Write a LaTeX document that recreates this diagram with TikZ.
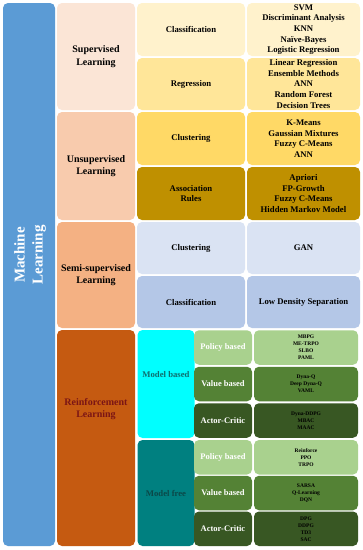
\documentclass[tikz,border=0pt]{standalone}
\usepackage{fontspec}
\setmainfont{Liberation Serif}
\definecolor{mlblue}{HTML}{5B9BD5}
\definecolor{supc}{HTML}{FBE5D6}
\definecolor{unsupc}{HTML}{F8CBAD}
\definecolor{semic}{HTML}{F4B183}
\definecolor{rlc}{HTML}{C55A11}
\definecolor{rltext}{HTML}{7B1515}
\definecolor{rowa}{HTML}{FFF2CC}
\definecolor{rowb}{HTML}{FFE699}
\definecolor{rowc}{HTML}{FFD966}
\definecolor{rowd}{HTML}{BF9000}
\definecolor{rowe}{HTML}{DAE3F3}
\definecolor{rowf}{HTML}{B4C7E7}
\definecolor{mbc}{HTML}{00FFFF}
\definecolor{mfc}{HTML}{008080}
\definecolor{mbtext}{HTML}{0F6E6E}
\definecolor{mftext}{HTML}{0B4848}
\definecolor{polc}{HTML}{A9D18E}
\definecolor{valc}{HTML}{548235}
\definecolor{actc}{HTML}{385723}

\begin{document}
\begin{tikzpicture}[x=1pt, y=-1pt,
    box/.style={rounded corners=5pt, inner sep=1pt, align=center, text=black},
    head/.style={font=\bfseries\fontsize{10}{12.3}\selectfont},
    cat/.style={font=\bfseries\fontsize{8.7}{10.7}\selectfont},
    sub/.style={font=\bfseries\fontsize{8.5}{10}\selectfont, text=white},
    alg/.style={font=\bfseries\fontsize{5.5}{7}\selectfont}]
    \useasboundingbox[fill=white] (0,0) rectangle (363,550);
    \node[box, fill=mlblue, minimum width=52pt, minimum height=543pt] (ml) at (29,274.5) {};
    \node[rotate=90, align=center, text=white, font=\bfseries\fontsize{15}{18}\selectfont] (mltxt) at (30,255) {Machine\\Learning};
    \node[box, head, fill=supc, minimum width=78pt, minimum height=107pt] (sup) at (96,56.5) {Supervised\\Learning};
    \node[box, head, fill=unsupc, minimum width=78pt, minimum height=108pt] (unsup) at (96,166) {Unsupervised\\Learning};
    \node[box, head, fill=semic, minimum width=78pt, minimum height=106pt] (semi) at (96,275) {Semi-supervised\\Learning};
    \node[box, fill=rlc, minimum width=78pt, minimum height=216pt] (rl) at (96,438) {};
    \node[head, align=center, text=rltext] (rltxt) at (96,409) {Reinforcement\\Learning};
    \foreach \n/\y/\h/\c/\t/\l in {
        cls/29.5/53/rowa/Classification/{SVM\\Discriminant Analysis\\KNN\\Naïve-Bayes\\Logistic Regression},
        reg/84/52/rowb/Regression/{Linear Regression\\Ensemble Methods\\ANN\\Random Forest\\Decision Trees},
        clu/138.5/53/rowc/Clustering/{K-Means\\Gaussian Mixtures\\Fuzzy C-Means\\ANN},
        aso/193.5/53/rowd/{Association\\Rules}/{Apriori\\FP-Growth\\Fuzzy C-Means\\Hidden Markov Model},
        sclu/248/52/rowe/Clustering/GAN,
        scls/302/52/rowf/Classification/Low Density Separation} {
        \node[box, cat, fill=\c, minimum width=108pt, minimum height=\h pt] (\n) at (191,\y) {\t};
        \node[box, cat, fill=\c, minimum width=113pt, minimum height=\h pt] (\n-list) at (303.5,\y) {\l};
    }
    \node[box, fill=mbc, minimum width=57pt, minimum height=108pt] (mb) at (166,384) {};
    \node[cat, text=mbtext] (mbtxt) at (166,375) {Model based};
    \node[box, cat, text=mftext, fill=mfc, minimum width=57pt, minimum height=106pt] (mf) at (166,493) {Model free};
    \foreach \n/\y/\c/\t/\l in {
        mbp/347.5/polc/Policy based/{MBPG\\ME-TRPO\\SLBO\\PAML},
        mbv/384/valc/Value based/{Dyna-Q\\Deep Dyna-Q\\VAML},
        mba/420.5/actc/Actor-Critic/{Dyna-DDPG\\MBAC\\MAAC},
        mfp/457.25/polc/Policy based/{Reinforce\\PPO\\TRPO},
        mfv/493/valc/Value based/{SARSA\\Q-Learning\\DQN},
        mfa/528.75/actc/Actor-Critic/{DPG\\DDPG\\TD3\\SAC}} {
        \node[box, sub, fill=\c, minimum width=58pt, minimum height=34.5pt] (\n) at (223,\y) {\t};
        \node[box, alg, fill=\c, minimum width=104pt, minimum height=34.5pt] (\n-list) at (306,\y) {\l};
    }
\end{tikzpicture}
\end{document}
